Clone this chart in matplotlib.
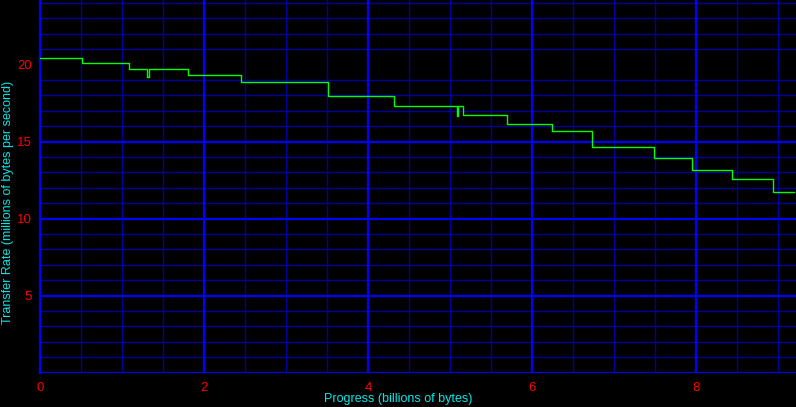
import numpy as np
import matplotlib
matplotlib.use("Agg")
import matplotlib.pyplot as plt
from matplotlib.ticker import MultipleLocator

# step start positions (billions of bytes) and transfer rate levels (MB/s)
step_x = [0.0, 0.51, 1.085, 1.31, 1.325, 1.80, 2.45, 3.51, 4.32, 5.085,
          5.10, 5.155, 5.70, 6.24, 6.73, 7.49, 7.95, 8.44, 8.94, 9.20]
step_y = [20.45, 20.12, 19.72, 19.2, 19.72, 19.3, 18.88, 17.95, 17.32, 16.65,
          17.3, 16.73, 16.15, 15.71, 14.65, 13.94, 13.18, 12.57, 11.75, 11.75]

x_ticks = [0, 2, 4, 6, 8]
y_ticks = [5, 10, 15, 20]
y_major_grid = [0, 5, 10, 15]

bright = "#0000ff"
dark = "#00009c"
font = ["Liberation Sans", "DejaVu Sans"]

fig = plt.figure(figsize=(7.96, 4.07), dpi=100, facecolor="black")
ax = fig.add_axes([40/796, 34.5/407, 756/796, 372.5/407])
ax.set_facecolor("black")

ax.set_xlim(0, 9.22)
ax.set_ylim(0, 24.19)

# grid: dark every 0.5 / 1, bright on the majors
ax.xaxis.set_minor_locator(MultipleLocator(0.5))
ax.yaxis.set_minor_locator(MultipleLocator(1))
ax.grid(which="minor", color=dark, lw=1.0)
for v in x_ticks:
    ax.axvline(v, color=bright, lw=1.6, zorder=1)
for v in y_major_grid:
    ax.axhline(v, color=bright, lw=1.6, zorder=1)
ax.set_axisbelow(True)

ax.plot(step_x, step_y, drawstyle="steps-post", color="#00ff00", lw=1.0, zorder=3)

ax.set_xticks(x_ticks)
ax.set_yticks(y_ticks)
ax.tick_params(which="both", length=0, colors="#ff0000", labelsize=9.5)
ax.tick_params(axis="x", pad=7)
ax.tick_params(axis="y", pad=6)
for lab in ax.get_xticklabels() + ax.get_yticklabels():
    lab.set_family(font)

for s in ax.spines.values():
    s.set_visible(False)
ax.spines["left"].set_visible(True)
ax.spines["left"].set_color(bright)
ax.spines["left"].set_linewidth(1.6)

ax.set_xlabel("Progress (billions of bytes)", color="#00e8e8", fontsize=9,
              family=font)
ax.set_ylabel("Transfer Rate (millions of bytes per second)", color="#00e8e8",
              fontsize=9, family=font)
ax.xaxis.label.set_va("center")
ax.yaxis.label.set_va("center")
ax.xaxis.set_label_coords((398 - 40) / 756, (372.5 - 399) / 372.5)
ax.yaxis.set_label_coords((8 - 40) / 756, (372.5 - 202) / 372.5)

fig.savefig("out.png", dpi=100, facecolor="black")
